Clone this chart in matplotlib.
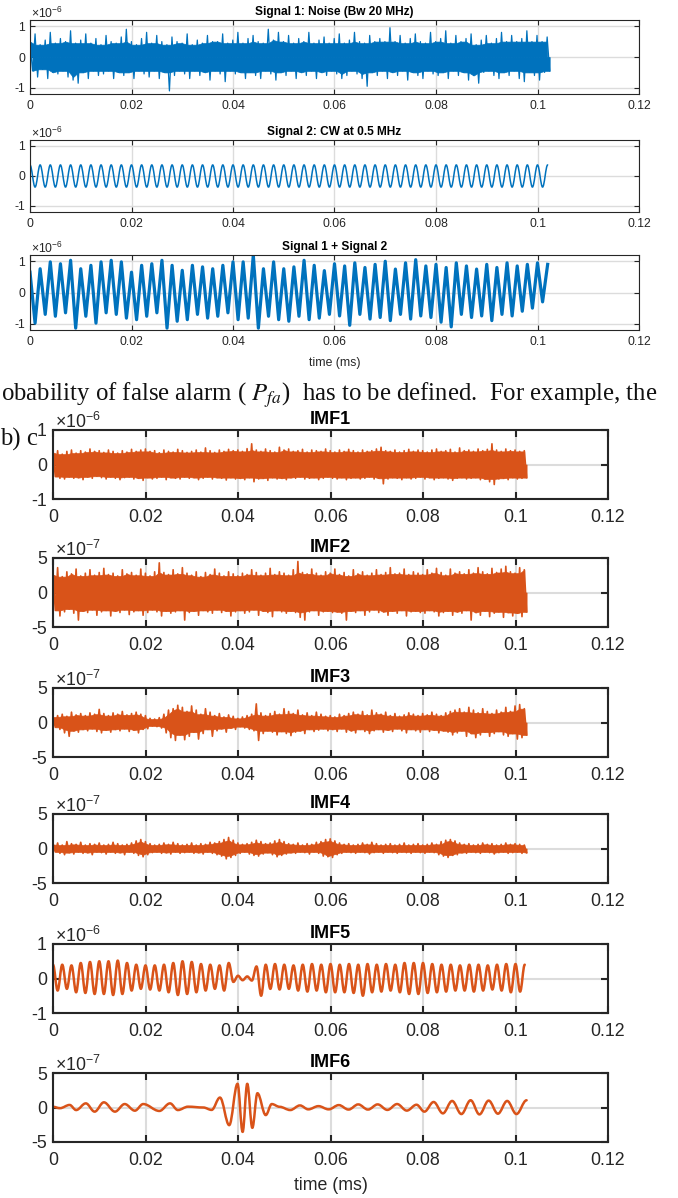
import numpy as np
import matplotlib.pyplot as plt
from matplotlib.path import Path
from matplotlib.patches import PathPatch

plt.rcParams['font.family'] = ['Liberation Sans', 'DejaVu Sans']
plt.rcParams['mathtext.fontset'] = 'custom'
plt.rcParams['mathtext.rm'] = 'Liberation Sans'
plt.rcParams['mathtext.it'] = 'Liberation Sans:italic'

# ---- data ----
T_END = 0.1024        # ms, record length
HALF_PERIOD = 0.001   # ms, half period of the 0.5 MHz tone

# Signal 1 (noise), upper / lower excursions per 1 us, x1e-6
sig1_upper = [0.5, 0.75, 0.4, 0.55, 0.8, 0.45, 0.6, 0.5, 0.85, 0.45,
              0.55, 0.75, 0.45, 0.6, 0.4, 0.7, 0.5, 0.45, 0.65, 0.9,
              0.5, 0.4, 0.6, 0.8, 0.45, 0.7, 0.5, 0.4, 0.65, 0.5,
              0.45, 0.75, 0.4, 0.55, 0.45, 0.7, 0.5, 0.5, 0.75, 0.45,
              0.55, 0.8, 0.45, 0.6, 0.7, 0.5, 0.45, 0.9, 0.55, 0.8,
              0.5, 0.7, 0.45, 0.6, 0.5, 0.8, 0.45, 0.55, 0.65, 0.45,
              0.6, 0.75, 0.45, 0.55, 0.8, 0.5, 0.45, 0.7, 0.5, 0.6,
              0.5, 0.95, 0.5, 0.7, 0.45, 0.6, 0.75, 0.5, 0.45, 0.8,
              0.5, 0.6, 0.85, 0.45, 0.7, 0.5, 0.6, 0.75, 0.4, 0.55,
              0.7, 0.45, 0.6, 0.8, 0.5, 0.7, 0.5, 0.6, 0.85, 0.5,
              0.7, 0.5, 0.65]
sig1_lower = [-0.45, -0.65, -0.4, -0.7, -0.5, -0.55, -0.45, -0.65, -0.75, -0.85,
              -0.5, -0.7, -0.45, -0.6, -0.55, -0.45, -0.7, -0.5, -0.6, -0.5,
              -0.7, -0.45, -0.55, -0.65, -0.45, -0.7, -0.5, -1.1, -0.6, -0.45,
              -0.55, -0.7, -0.45, -0.6, -0.5, -0.75, -0.45, -0.55, -0.8, -0.45,
              -0.55, -0.5, -0.7, -0.5, -0.6, -0.7, -0.45, -0.55, -0.75, -0.5,
              -0.6, -0.45, -0.7, -0.5, -0.6, -0.45, -0.7, -0.5, -0.6, -0.45,
              -0.55, -0.7, -0.6, -0.45, -0.55, -0.7, -0.95, -0.5, -0.6, -0.45,
              -0.7, -0.5, -0.6, -0.45, -0.75, -0.5, -0.6, -0.7, -0.45, -0.55,
              -0.6, -0.5, -0.7, -0.45, -0.6, -0.5, -0.75, -0.6, -0.85, -0.5,
              -0.45, -0.6, -0.7, -0.5, -0.6, -0.45, -0.7, -0.8, -0.5, -0.6,
              -0.75, -0.5, -0.45]

# Signal 2 (CW at 0.5 MHz), successive peaks / troughs, x1e-6
cw_extremes = [0.37, -0.37] * 51 + [0.37]

# Signal 1 + Signal 2, successive peaks / troughs, x1e-6
sum_extremes = [0.65, -0.98, 0.76, -0.7, 0.98, -0.76, 0.92, -0.65, 1.03, -1.14,
                0.76, -0.76, 0.87, -0.98, 0.98, -0.65, 1.03, -0.7, 0.98, -0.82,
                0.65, -0.87, 0.87, -0.76, 0.92, -0.65, 1.03, -1.14, 0.87, -0.92,
                0.71, -0.87, 0.87, -0.7, 0.82, -0.82, 0.76, -0.76, 0.87, -0.65,
                0.98, -0.87, 0.98, -0.82, 1.2, -1.14, 0.76, -0.76, 0.98, -0.87,
                0.76, -0.92, 0.82, -0.76, 1.03, -0.87, 0.87, -0.82, 0.7, -0.7,
                0.92, -0.75, 0.85, -1.05, 0.95, -0.7, 0.8, -0.85, 0.9, -0.8,
                1.0, -0.9, 0.75, -0.7, 0.95, -0.85, 1.05, -0.75, 0.85, -0.8,
                0.9, -0.95, 0.8, -1.1, 0.95, -0.7, 0.85, -0.8, 0.75, -0.75,
                0.9, -0.9, 0.8, -0.7, 0.95, -0.75, 0.85, -0.6, 0.9, -0.5,
                0.95, -0.3, 0.9]

# IMF1, x1e-6
imf1_upper = [0.35, 0.4, 0.3, 0.38, 0.42, 0.33, 0.4, 0.36, 0.45, 0.38,
              0.4, 0.35, 0.42, 0.38, 0.33, 0.4, 0.36, 0.44, 0.38, 0.42,
              0.45, 0.38, 0.4, 0.34, 0.42, 0.38, 0.36, 0.44, 0.4, 0.35,
              0.38, 0.42, 0.36, 0.48, 0.4, 0.35, 0.42, 0.38, 0.44, 0.4,
              0.42, 0.38, 0.46, 0.6, 0.42, 0.38, 0.45, 0.4, 0.36, 0.5,
              0.42, 0.45, 0.38, 0.4, 0.44, 0.36, 0.42, 0.4, 0.38, 0.45,
              0.4, 0.36, 0.42, 0.38, 0.44, 0.4, 0.36, 0.42, 0.38, 0.4,
              0.45, 0.5, 0.4, 0.38, 0.42, 0.36, 0.4, 0.44, 0.38, 0.42,
              0.4, 0.36, 0.42, 0.45, 0.38, 0.4, 0.44, 0.36, 0.48, 0.4,
              0.42, 0.38, 0.45, 0.4, 0.44, 0.6, 0.42, 0.38, 0.45, 0.4,
              0.42, 0.38, 0.4]
imf1_lower = [-0.35, -0.4, -0.42, -0.36, -0.4, -0.38, -0.44, -0.36, -0.4, -0.34,
              -0.38, -0.42, -0.36, -0.4, -0.44, -0.38, -0.36, -0.42, -0.4, -0.46,
              -0.38, -0.42, -0.4, -0.36, -0.44, -0.38, -0.4, -0.42, -0.36, -0.4,
              -0.38, -0.44, -0.4, -0.36, -0.42, -0.38, -0.4, -0.45, -0.38, -0.42,
              -0.4, -0.44, -0.38, -0.5, -0.42, -0.4, -0.46, -0.38, -0.42, -0.4,
              -0.44, -0.38, -0.4, -0.36, -0.42, -0.4, -0.38, -0.44, -0.4, -0.36,
              -0.4, -0.42, -0.38, -0.44, -0.4, -0.38, -0.42, -0.4, -0.36, -0.42,
              -0.4, -0.56, -0.42, -0.38, -0.4, -0.44, -0.38, -0.42, -0.4, -0.36,
              -0.42, -0.38, -0.44, -0.4, -0.38, -0.42, -0.46, -0.4, -0.38, -0.42,
              -0.4, -0.38, -0.44, -0.42, -0.5, -0.58, -0.42, -0.4, -0.44, -0.38,
              -0.42, -0.4, -0.38]

# IMF2, x1e-7
imf2_upper = [2.6, 3.6, 2.3, 3.0, 2.7, 3.4, 2.4, 2.8, 3.3, 2.5,
              2.9, 3.5, 2.6, 2.8, 2.4, 3.3, 2.7, 2.9, 2.5, 3.4,
              2.8, 2.4, 3.0, 4.3, 2.9, 2.6, 3.3, 2.7, 3.6, 2.8,
              2.5, 3.0, 2.3, 2.9, 2.6, 3.4, 2.8, 2.4, 3.0, 2.7,
              2.4, 2.8, 2.6, 3.3, 2.9, 2.5, 2.8, 3.5, 2.6, 3.0,
              2.8, 2.5, 3.3, 4.5, 2.9, 2.7, 3.4, 2.8, 2.5, 3.0,
              2.8, 3.4, 2.6, 2.9, 2.4, 3.3, 2.7, 3.0, 2.5, 2.8,
              3.3, 2.6, 2.9, 3.6, 2.7, 2.8, 3.4, 2.6, 3.0, 2.8,
              2.6, 3.3, 2.8, 3.5, 2.9, 2.5, 3.4, 2.8, 3.0, 2.7,
              3.3, 2.8, 3.6, 3.0, 2.7, 3.5, 2.9, 3.4, 3.8, 3.0,
              2.8, 3.6, 3.3]
imf2_lower = [-2.6, -3.4, -2.8, -2.4, -3.0, -4.0, -2.7, -2.9, -2.5, -3.3,
              -2.8, -2.6, -3.4, -2.7, -2.9, -2.5, -3.2, -2.8, -2.6, -3.3,
              -2.9, -2.5, -2.8, -3.4, -2.7, -3.0, -2.8, -2.6, -4.0, -2.9,
              -2.7, -3.3, -2.6, -2.8, -3.0, -2.5, -2.9, -2.7, -3.4, -2.8,
              -2.6, -3.0, -2.8, -2.5, -3.3, -2.7, -2.9, -3.5, -2.6, -2.8,
              -3.0, -2.7, -2.9, -3.6, -4.0, -2.8, -2.6, -3.3, -2.8, -2.7,
              -2.9, -2.8, -3.0, -4.0, -2.7, -2.9, -2.6, -3.3, -2.8, -2.5,
              -2.9, -2.8, -3.3, -2.7, -3.0, -2.6, -3.4, -2.8, -2.7, -2.9,
              -3.0, -2.6, -2.8, -3.4, -2.9, -2.7, -3.3, -2.8, -3.0, -2.6,
              -4.0, -2.9, -3.3, -2.7, -3.5, -3.0, -2.8, -3.6, -2.9, -3.4,
              -3.0, -3.5, -2.8]

# IMF3, x1e-7
imf3_upper = [0.8, 1.0, 1.2, 0.9, 1.5, 1.1, 1.3, 1.0, 1.4, 1.2,
              1.9, 1.3, 1.0, 1.4, 1.2, 1.6, 1.1, 1.3, 1.5, 1.2,
              1.0, 0.6, 0.5, 0.7, 1.2, 1.8, 2.0, 2.5, 2.2, 1.6,
              2.4, 1.8, 1.2, 2.0, 1.5, 1.0, 1.3, 0.8, 1.1, 0.9,
              0.6, 0.8, 1.0, 1.2, 2.7, 1.4, 1.0, 1.3, 1.6, 1.2,
              2.0, 1.6, 1.3, 1.8, 1.1, 1.4, 1.0, 1.5, 1.2, 0.9,
              1.0, 0.8, 1.2, 1.0, 1.3, 1.5, 1.2, 1.6, 1.1, 1.8,
              1.4, 1.2, 1.5, 1.0, 1.3, 0.9, 1.1, 1.4, 1.2, 1.0,
              1.3, 1.1, 1.5, 1.2, 1.0, 1.4, 1.6, 1.8, 2.0, 1.5,
              2.2, 1.8, 1.4, 2.0, 1.6, 1.3, 1.8, 1.5, 2.2, 1.6,
              2.4, 2.6, 2.0]
imf3_lower = [-0.7, -1.0, -1.5, -2.0, -1.2, -1.4, -1.0, -1.2, -0.9, -1.3,
              -1.5, -1.1, -1.4, -1.0, -1.2, -0.9, -1.3, -1.1, -1.5, -1.0,
              -0.9, -0.5, -0.6, -0.8, -1.5, -2.2, -2.6, -1.8, -2.5, -2.0,
              -1.4, -2.4, -1.6, -1.0, -2.0, -1.2, -0.9, -1.4, -0.8, -1.0,
              -0.6, -0.8, -1.0, -1.2, -2.6, -1.6, -1.2, -1.4, -1.8, -1.3,
              -1.6, -1.9, -1.4, -1.2, -1.6, -1.0, -1.3, -1.1, -0.9, -1.2,
              -1.0, -1.3, -0.9, -1.4, -1.2, -1.5, -1.0, -1.3, -1.6, -1.2,
              -1.0, -1.4, -1.1, -1.3, -0.9, -1.2, -1.5, -1.0, -1.2, -1.4,
              -1.0, -1.3, -1.1, -1.5, -1.2, -1.4, -1.8, -1.5, -1.2, -2.0,
              -1.6, -2.2, -1.8, -1.4, -2.0, -1.6, -1.3, -1.8, -2.0, -1.6,
              -2.4, -2.2, -1.8]

# IMF4, x1e-7
imf4_upper = [0.6, 0.8, 0.5, 1.0, 0.7, 0.6, 0.9, 0.5, 0.7, 0.6,
              0.8, 0.5, 0.6, 0.9, 0.7, 0.5, 0.6, 0.8, 1.1, 1.3,
              1.0, 0.7, 0.5, 0.6, 0.8, 0.6, 0.9, 0.7, 0.5, 0.6,
              0.8, 0.5, 0.7, 0.6, 0.9, 0.8, 1.0, 1.3, 1.6, 1.2,
              0.8, 0.6, 0.7, 0.9, 1.2, 1.0, 0.7, 0.8, 1.1, 1.3,
              1.0, 0.7, 0.6, 0.8, 0.5, 0.7, 0.6, 0.9, 1.0, 1.3,
              1.4, 1.1, 0.8, 0.6, 0.7, 0.5, 0.6, 0.8, 0.6, 0.9,
              0.7, 0.5, 0.6, 0.7, 0.5, 0.6, 0.8, 0.5, 0.6, 0.7,
              0.5, 0.6, 0.8, 0.6, 1.0, 1.2, 1.3, 1.1, 0.8, 0.6,
              0.7, 0.5, 0.6, 0.8, 0.6, 0.7, 0.5, 0.6, 0.8, 0.6,
              0.7, 0.6, 0.5]
imf4_lower = [-0.5, -0.7, -0.9, -0.6, -0.8, -0.5, -0.7, -0.6, -0.9, -0.5,
              -0.6, -0.8, -0.5, -0.7, -0.6, -0.9, -0.5, -0.7, -1.0, -1.2,
              -0.9, -0.6, -0.5, -0.7, -0.6, -0.8, -0.5, -0.7, -0.6, -0.5,
              -0.7, -0.6, -0.8, -0.5, -0.7, -0.9, -1.1, -1.5, -1.3, -1.0,
              -0.7, -0.5, -0.8, -1.0, -1.1, -0.8, -0.6, -0.9, -1.2, -1.0,
              -0.8, -0.6, -0.7, -0.5, -0.6, -0.8, -0.5, -0.7, -1.1, -1.2,
              -1.3, -0.9, -0.7, -0.5, -0.6, -0.7, -0.5, -0.6, -0.8, -0.6,
              -0.5, -0.7, -0.5, -0.6, -0.7, -0.5, -0.6, -0.7, -0.5, -0.6,
              -0.7, -0.5, -0.6, -0.9, -1.1, -1.3, -1.0, -0.9, -0.6, -0.7,
              -0.5, -0.6, -0.7, -0.5, -0.6, -0.8, -0.6, -0.5, -0.7, -0.6,
              -0.5, -0.7, -0.6]

# IMF5, successive peaks / troughs every half period, x1e-6
imf5_extremes = [0.4, -0.35, 0.4, -0.3, 0.38, -0.4, 0.45, -0.42, 0.48, -0.45,
                 0.5, -0.45, 0.5, -0.48, 0.52, -0.45, 0.45, -0.35, 0.4, -0.3,
                 0.38, -0.32, 0.38, -0.35, 0.4, -0.4, 0.45, -0.48, 0.5, -0.45,
                 0.48, -0.4, 0.42, -0.35, 0.4, -0.3, 0.38, -0.35, 0.45, -0.1,
                 0.08, -0.05, 0.06, -0.06, 0.35, -0.5, 0.4, -0.3, 0.42, -0.32,
                 0.4, -0.3, 0.38, -0.35, 0.4, -0.38, 0.42, -0.35, 0.4, -0.4,
                 0.42, -0.4, 0.4, -0.4, 0.42, -0.42, 0.4, -0.5, 0.42, -0.4,
                 0.4, -0.38, 0.42, -0.35, 0.4, -0.4, 0.45, -0.45, 0.45, -0.45,
                 0.45, -0.42, 0.42, -0.4, 0.4, -0.38, 0.4, -0.35, 0.38, -0.35,
                 0.4, -0.38, 0.4, -0.35, 0.38, -0.32, 0.4, -0.35, 0.42, -0.4,
                 0.42, -0.38, 0.4]

# IMF6, turning points (time in ms, value x1e-7)
imf6_t = [0.0, 0.0015, 0.0036, 0.005, 0.0071, 0.009, 0.011, 0.0134, 0.0155, 0.0177,
          0.0195, 0.023, 0.0253, 0.027, 0.0292, 0.0325, 0.0343, 0.0361, 0.0381, 0.0399,
          0.041, 0.042, 0.0431, 0.0442, 0.046, 0.0473, 0.049, 0.0513, 0.0534, 0.0552,
          0.0574, 0.0596, 0.0618, 0.0639, 0.066, 0.0681, 0.0702, 0.0723, 0.0744, 0.0765,
          0.0786, 0.0803, 0.0823, 0.0843, 0.0863, 0.0883, 0.0903, 0.0922, 0.0942, 0.0962,
          0.0982, 0.1002, 0.1024]
imf6_y = [0.1, -0.1, 0.37, -0.37, 0.6, -0.6, 0.75, -0.6, 0.5, -0.46,
          0.5, -0.5, 0.6, -0.37, 0.12, 0.0, -0.35, 1.44, -2.56, 3.44,
          -3.54, 3.44, -2.95, 2.07, -1.1, 0.5, 0.1, -0.37, 0.3, -0.27,
          0.2, -0.27, 0.35, -0.3, 0.45, -0.3, 0.45, -0.35, 0.5, -0.45,
          0.4, -0.6, 0.8, -0.85, 0.95, -0.95, 1.05, -1.0, 1.0, -0.9,
          0.95, -0.95, 1.05]

xticks = [0, 0.02, 0.04, 0.06, 0.08, 0.1, 0.12]
xlabels = ['0', '0.02', '0.04', '0.06', '0.08', '0.1', '0.12']

INK = '#262626'
BLUE = '#0072BD'
ORANGE = '#D95319'
GRID = '#dcdcdc'

W, H = 678, 1198
fig = plt.figure(figsize=(W / 100, H / 100), dpi=100)


def add_ax(left, top, right, bottom):
    return fig.add_axes([left / W, 1 - bottom / H, (right - left) / W, (bottom - top) / H])


def ptext(x, y, s, **kw):
    return fig.text(x / W, 1 - y / H, s, **kw)


def style(ax, ylim, yticks, fs, lw, tlen, xpad, ypad, glw):
    ax.set_xlim(0, 0.12)
    ax.set_ylim(*ylim)
    ax.set_xticks(xticks)
    ax.set_xticklabels(xlabels)
    ax.set_yticks(yticks)
    ax.set_yticklabels([f'{v:g}' for v in yticks])
    ax.grid(True, color=GRID, lw=glw)
    ax.set_axisbelow(True)
    ax.tick_params(direction='in', top=True, right=True, length=tlen, width=lw,
                   color=INK, labelcolor=INK, labelsize=fs)
    ax.tick_params(axis='x', pad=xpad)
    ax.tick_params(axis='y', pad=ypad)
    for sp in ax.spines.values():
        sp.set_color(INK)
        sp.set_linewidth(lw)
        sp.set_zorder(5)


def inner(v):
    # smaller of each excursion and its neighbours: the solid core of the trace
    v = np.abs(np.asarray(v, dtype=float))
    c = v.copy()
    c[1:] = np.minimum(c[1:], v[:-1])
    c[:-1] = np.minimum(c[:-1], v[1:])
    return c


def noise(ax, upper, lower, color, lw):
    n = min(len(upper), len(lower))
    up = np.asarray(upper[:n])
    lo = np.asarray(lower[:n])
    t = np.linspace(0, T_END, 2 * n)
    # solid core
    ax.fill_between(t[0::2], 0, inner(up), color=color, lw=0.5, zorder=2)
    ax.fill_between(t[1::2], -inner(lo), 0, color=color, lw=0.5, zorder=2)
    # spikes: alternate the upper and lower excursions
    ax.plot(t, np.column_stack([up, lo]).ravel(), color=color, lw=lw, zorder=2)


def smooth(ax, t, y, color, lw):
    # cubic segments with flat tangents at each turning point
    verts = [(t[0], y[0])]
    codes = [Path.MOVETO]
    for i in range(1, len(t)):
        dt = t[i] - t[i - 1]
        verts += [(t[i - 1] + 0.3642 * dt, y[i - 1]), (t[i] - 0.3642 * dt, y[i]), (t[i], y[i])]
        codes += [Path.CURVE4] * 3
    ax.add_patch(PathPatch(Path(verts, codes), fill=False, edgecolor=color, lw=lw,
                           joinstyle='round', capstyle='round', zorder=2))


# ---- top figure: input signals ----
fs_top = 8.8
L1, R1 = 30, 639
top_rows = [(20, 94), (140, 212), (255, 330)]
top_titles = ['Signal 1: Noise (Bw 20 MHz)', 'Signal 2: CW at 0.5 MHz', 'Signal 1 + Signal 2']
tops = []
for (tp, bt), title in zip(top_rows, top_titles):
    ax = add_ax(L1, tp, R1, bt)
    style(ax, (-1.2, 1.2), [-1, 0, 1], fs_top, 0.8, 3.5, 4.5, 3.5, 1.0)
    ptext((L1 + R1) / 2, tp - 5, title, ha='center', va='baseline',
          fontsize=8.6, fontweight='bold', color='black')
    ptext(L1 + 1, tp - 2, r'$\times10^{-6}$', ha='left', va='baseline', fontsize=fs_top, color=INK)
    tops.append(ax)

noise(tops[0], sig1_upper, sig1_lower, BLUE, 0.9)
t_cw = HALF_PERIOD * np.arange(len(cw_extremes))
smooth(tops[1], t_cw, cw_extremes, BLUE, 1.1)
t_sum = HALF_PERIOD * np.arange(len(sum_extremes))
tops[2].plot(t_sum, sum_extremes, color=BLUE, lw=2.3, zorder=2)
ptext((L1 + R1) / 2, 366, 'time (ms)', ha='center', va='baseline', fontsize=fs_top, color=INK)

# ---- text of the paper between the figures ----
ptext(1, 401, r'obability of false alarm ( $P_{fa}$)  has to be defined.  For example, the',
      ha='left', va='baseline', fontsize=17.8, family='Liberation Serif',
      math_fontfamily='stix', color='#111111')
ptext(0, 446, 'b) c', ha='left', va='baseline', fontsize=17.8, family='Liberation Serif',
      color='#111111')

# ---- bottom figure: IMFs ----
fs_bot = 12.8
L2, R2 = 53, 608
bot_tops = [430, 558, 688, 814, 944, 1073]
bot_h = 69
imf_lims = [1, 5, 5, 5, 1, 5]
imf_exps = ['-6', '-7', '-7', '-7', '-6', '-7']
bots = []
for k, tp in enumerate(bot_tops):
    ax = add_ax(L2, tp, R2, tp + bot_h)
    lim = imf_lims[k]
    style(ax, (-lim, lim), [-lim, 0, lim], fs_bot, 1.5, 5, 7.5, 4.5, 1.5)
    ptext((L2 + R2) / 2, tp - 6, f'IMF{k + 1}', ha='center', va='baseline',
          fontsize=13, fontweight='bold', color='black')
    ptext(L2 + 2, tp - 2, r'$\times10^{' + imf_exps[k] + '}$', ha='left', va='baseline',
          fontsize=fs_bot, color=INK)
    bots.append(ax)

noise(bots[0], imf1_upper, imf1_lower, ORANGE, 1.2)
noise(bots[1], imf2_upper, imf2_lower, ORANGE, 1.2)
noise(bots[2], imf3_upper, imf3_lower, ORANGE, 1.2)
noise(bots[3], imf4_upper, imf4_lower, ORANGE, 1.2)
t_imf5 = HALF_PERIOD * np.arange(len(imf5_extremes))
smooth(bots[4], t_imf5, imf5_extremes, ORANGE, 1.8)
smooth(bots[5], imf6_t, imf6_y, ORANGE, 1.8)
ptext((L2 + R2) / 2, 1190, 'time (ms)', ha='center', va='baseline', fontsize=fs_bot, color=INK)

fig.savefig('out.png', dpi=100)
